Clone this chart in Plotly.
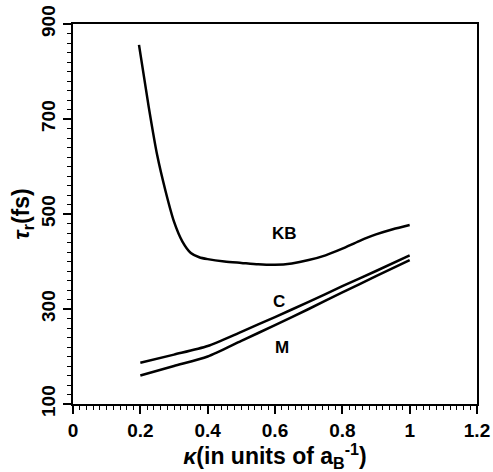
import plotly.graph_objects as go

kb_x = [0.196, 0.225, 0.25, 0.275, 0.3, 0.325, 0.35, 0.375, 0.4, 0.45, 0.5, 0.55, 0.6,
        0.65, 0.7, 0.75, 0.8, 0.85, 0.9, 0.95, 1.0]
kb_y = [856, 725, 624, 548, 484, 442, 418, 409, 405, 400, 397, 394, 393,
        396, 403, 413, 427, 443, 457, 468, 477]

c_x = [0.2, 0.3, 0.4, 0.5, 0.6, 0.7, 0.8, 0.9, 1.0]
c_y = [187, 204, 222, 252, 283, 315, 348, 380, 413]

m_x = [0.2, 0.3, 0.4, 0.5, 0.6, 0.7, 0.8, 0.9, 1.0]
m_y = [160, 180, 200, 233, 266, 300, 335, 369, 403]

labels = ["KB", "C", "M"]
label_x = [0.628, 0.613, 0.62]
label_y = [460, 316, 220]

x_ticks = [0, 0.2, 0.4, 0.6, 0.8, 1, 1.2]
x_tick_text = ["0", "0.2", "0.4", "0.6", "0.8", "1", "1.2"]
y_ticks = [100, 300, 500, 700, 900]

fig = go.Figure()
for xs, ys in [(kb_x, kb_y), (c_x, c_y), (m_x, m_y)]:
    fig.add_trace(go.Scatter(x=xs, y=ys, mode="lines",
                             line=dict(color="black", width=2.5, shape="spline", smoothing=0.7),
                             showlegend=False, hoverinfo="skip"))

for t, lx, ly in zip(labels, label_x, label_y):
    fig.add_annotation(x=lx, y=ly, text="<b>" + t + "</b>", showarrow=False,
                       font=dict(family="Arial", size=17, color="black"))

axis_common = dict(showline=True, linecolor="black", linewidth=2, mirror=True,
                   showgrid=False, zeroline=False, ticks="outside", ticklen=8,
                   tickwidth=1.5, tickcolor="black", automargin=False,
                   tickfont=dict(family="Arial", size=19, color="black", weight="bold"))

fig.update_xaxes(range=[0, 1.2], tickvals=x_ticks, ticktext=x_tick_text,
                 minor=dict(dtick=0.02, ticks="outside", ticklen=4, tickcolor="black", tickwidth=1),
                 title=dict(text="<b><i>κ</i>(in units of a<sub>B</sub><sup>-1</sup>)</b>",
                            font=dict(family="Arial", size=23, color="black"), standoff=6),
                 **axis_common)
fig.update_yaxes(range=[100, 900], tickvals=y_ticks, tickangle=-90,
                 minor=dict(dtick=20, ticks="outside", ticklen=4, tickcolor="black", tickwidth=1),
                 title=dict(text="<b><i>τ</i><sub>r</sub>(fs)</b>",
                            font=dict(family="Arial", size=23, color="black"), standoff=2),
                 **axis_common)

fig.update_layout(width=493, height=472, margin=dict(l=73, r=16, t=24, b=68),
                  plot_bgcolor="white", paper_bgcolor="white")
fig.write_html("out.html")
